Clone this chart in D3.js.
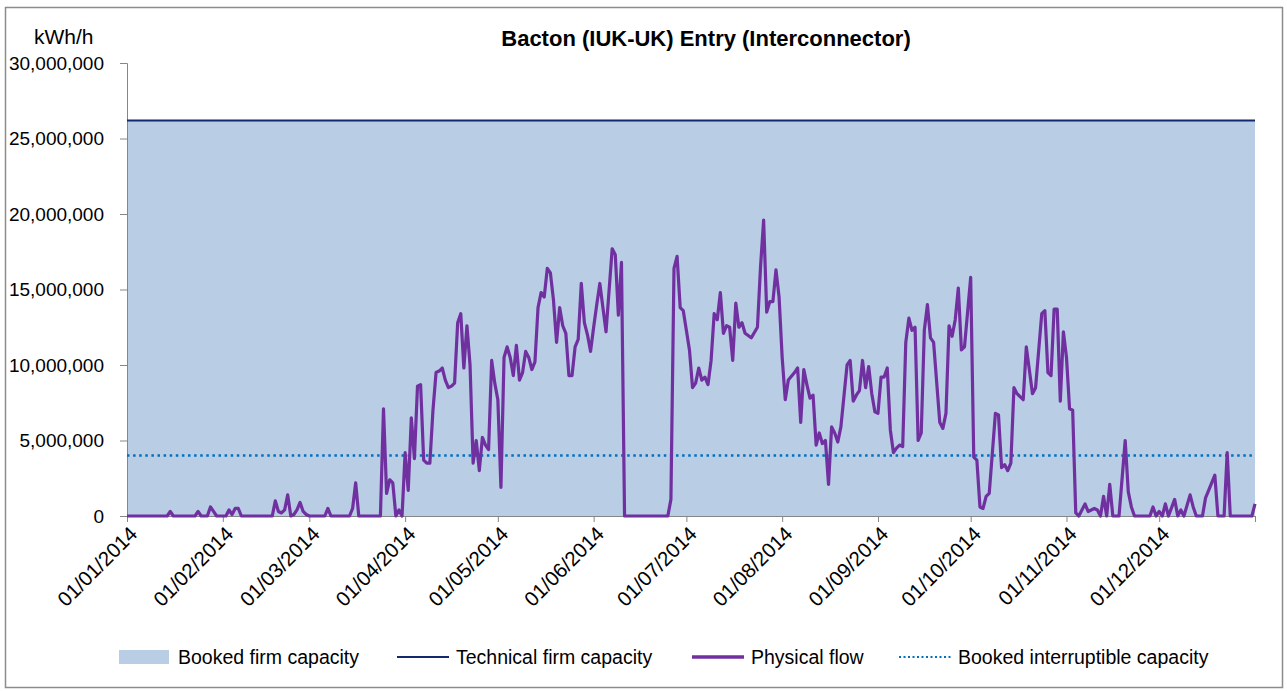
<!DOCTYPE html>
<html>
<head>
<meta charset="utf-8">
<script src="https://cdn.jsdelivr.net/npm/d3@7"></script>
<style>
  body { margin: 0; background: #fff; }
  svg { display: block; font-family: "Liberation Sans", Arial, sans-serif; }
</style>
</head>
<body>
<div id="chart"></div>
<script>
const chartTitle = 'Bacton (IUK-UK) Entry (Interconnector)';
const unitLabel = 'kWh/h';
const yTicks = [0, 5000000, 10000000, 15000000, 20000000, 25000000, 30000000];
const monthTicks = ['2014-01-01', '2014-02-01', '2014-03-01', '2014-04-01', '2014-05-01', '2014-06-01',
  '2014-07-01', '2014-08-01', '2014-09-01', '2014-10-01', '2014-11-01', '2014-12-01'];
const legendLabels = ['Booked firm capacity', 'Technical firm capacity', 'Physical flow', 'Booked interruptible capacity'];

// capacities, kWh/h (flat for the whole year)
const bookedFirm = 26200000;
const technicalFirm = 26200000;
const bookedInterruptible = 4000000;

// physical flow: day of year (0 = 01/01/2014) and value in million kWh/h
const flowDay = [0, 13, 14, 15, 22, 23, 24, 26, 27, 28, 29, 32, 33, 34, 35, 36, 37, 47, 48, 49,
  50, 51, 52, 53, 54, 55, 56, 57, 58, 59, 64, 65, 66, 72, 73, 74, 75, 82, 83, 84,
  85, 86, 87, 88, 89, 90, 91, 92, 93, 94, 95, 96, 97, 98, 99, 100, 101, 102, 103, 104,
  105, 106, 107, 108, 109, 110, 111, 112, 113, 114, 115, 116, 117, 118, 119, 120, 121, 122, 123, 124,
  125, 126, 127, 128, 129, 130, 131, 132, 133, 134, 135, 136, 137, 138, 139, 140, 141, 142, 143, 144,
  145, 146, 147, 148, 149, 150, 151, 152, 153, 154, 155, 157, 158, 159, 160, 161, 175, 176, 177, 178,
  179, 180, 181, 182, 183, 184, 185, 186, 187, 188, 189, 190, 191, 192, 193, 194, 195, 196, 197, 198,
  199, 200, 202, 204, 205, 206, 207, 208, 209, 210, 211, 212, 213, 214, 216, 217, 218, 219, 220, 221,
  222, 223, 224, 225, 226, 227, 228, 229, 230, 231, 233, 234, 235, 236, 237, 238, 239, 240, 241, 242,
  243, 244, 245, 246, 247, 248, 249, 250, 251, 252, 253, 254, 255, 256, 257, 258, 259, 260, 261, 263,
  264, 265, 266, 267, 268, 269, 270, 271, 273, 274, 275, 276, 277, 278, 279, 281, 282, 283, 284, 285,
  286, 287, 288, 290, 291, 293, 294, 296, 297, 298, 299, 300, 301, 302, 303, 304, 305, 306, 307, 308,
  310, 311, 313, 314, 315, 316, 317, 318, 319, 321, 322, 323, 324, 325, 326, 331, 332, 333, 334, 335,
  336, 337, 339, 340, 341, 342, 344, 345, 346, 348, 349, 350, 352, 353, 355, 356, 357, 364, 365];
const flowMkwh = [0, 0, 0.3, 0, 0, 0.3, 0, 0, 0.6, 0.3, 0, 0, 0.4, 0.1, 0.5, 0.5, 0, 0, 1.0, 0.3,
  0.2, 0.4, 1.4, 0, 0.1, 0.4, 0.9, 0.3, 0.1, 0, 0, 0.5, 0, 0, 0.5, 2.2, 0, 0, 7.1, 1.5,
  2.4, 2.2, 0, 0.4, 0, 4.2, 1.7, 6.5, 3.8, 8.6, 8.7, 3.7, 3.5, 3.5, 7.0, 9.5, 9.6, 9.8, 9.0, 8.5,
  8.6, 8.8, 12.8, 13.4, 9.8, 12.6, 10.0, 3.5, 5.0, 3.0, 5.2, 4.7, 4.4, 10.3, 8.8, 7.7, 1.9, 10.5, 11.2, 10.5,
  9.3, 11.3, 9.0, 9.5, 10.9, 10.5, 9.7, 10.2, 13.8, 14.8, 14.5, 16.4, 16.1, 14.3, 11.5, 13.8, 12.6, 12.1, 9.3, 9.3,
  11.2, 11.7, 15.4, 12.8, 12.0, 10.9, 12.5, 14.0, 15.4, 13.8, 12.2, 17.7, 17.3, 13.3, 16.8, 0, 0, 1.1, 16.4, 17.2,
  13.8, 13.6, 12.3, 11.0, 8.5, 8.8, 9.8, 9.0, 9.2, 8.7, 10.3, 13.4, 13.0, 14.8, 12.1, 12.6, 12.5, 10.3, 14.1, 12.5,
  12.8, 12.1, 11.8, 12.5, 16.5, 19.6, 13.5, 14.2, 14.2, 16.3, 14.5, 10.5, 7.7, 9.0, 9.5, 9.8, 6.2, 9.7, 8.7, 7.8,
  8.0, 4.7, 5.5, 4.8, 5.0, 2.1, 5.9, 5.5, 4.9, 5.9, 10.0, 10.3, 7.6, 8.0, 8.3, 10.3, 8.5, 9.9, 8.1, 6.9,
  6.8, 9.2, 9.2, 9.8, 5.7, 4.2, 4.5, 4.7, 4.6, 11.5, 13.1, 12.3, 12.5, 5.0, 5.5, 12.3, 14.0, 11.8, 11.5, 6.2,
  5.8, 6.8, 12.6, 11.9, 13.0, 15.1, 11.0, 11.2, 15.8, 3.9, 3.7, 0.6, 0.5, 1.3, 1.5, 6.8, 6.7, 3.2, 3.4, 3.0,
  3.5, 8.5, 8.1, 7.7, 11.2, 8.1, 8.5, 13.4, 13.6, 9.5, 9.3, 13.7, 13.7, 7.6, 12.2, 10.5, 7.1, 7.0, 0.2, 0,
  0.8, 0.3, 0.5, 0.4, 0, 1.3, 0, 2.1, 0, 0, 2.5, 5.0, 1.6, 0.6, 0, 0, 0.6, 0, 0.3, 0,
  0.8, 0, 1.1, 0, 0.4, 0, 1.4, 0.6, 0, 0, 1.2, 1.7, 2.7, 0, 0, 4.2, 0, 0, 0.8];

const W = 1287, H = 691;
const margin = { left: 127, right: 32, top: 63, bottom: 175 };
const areaColor = '#b9cde5';
const techColor = '#14286e';
const flowColor = '#7030a0';
const interColor = '#0070c0';
const axisColor = '#868686';

const parseDate = d3.timeParse('%Y-%m-%d');
const fmtTick = d3.timeFormat('%d/%m/%Y');
const start = parseDate('2014-01-01');
const end = parseDate('2015-01-01');

const svg = d3.select('#chart').append('svg')
  .attr('width', W)
  .attr('height', H);

svg.append('rect')
  .attr('x', 5.5).attr('y', 7.5)
  .attr('width', 1277).attr('height', 680)
  .attr('fill', '#fff')
  .attr('stroke', '#8c8c8c')
  .attr('stroke-width', 1.5);

const x = d3.scaleTime()
  .domain([start, end])
  .range([margin.left, W - margin.right]);

const y = d3.scaleLinear()
  .domain([0, 30000000])
  .range([H - margin.bottom, margin.top]);

const flowData = flowDay.map((d, i) => ({ date: d3.timeDay.offset(start, d), value: flowMkwh[i] * 1000000 }));
const span = [start, end];

// booked firm capacity (area)
svg.append('path')
  .datum(span)
  .attr('fill', areaColor)
  .attr('d', d3.area().x(d => x(d)).y0(y(0)).y1(y(bookedFirm)));

// axes
const yAxis = svg.append('g')
  .attr('transform', `translate(${margin.left},0)`)
  .call(d3.axisLeft(y).tickValues(yTicks).tickSize(7).tickPadding(16).tickFormat(d3.format(',')));
yAxis.select('.domain').attr('stroke', axisColor);
yAxis.selectAll('.tick line').attr('stroke', axisColor);
yAxis.selectAll('.tick text')
  .attr('fill', '#000')
  .style('font-size', '19px');

const xAxis = svg.append('g')
  .attr('transform', `translate(0,${y(0)})`)
  .call(d3.axisBottom(x).tickValues(monthTicks.map(parseDate).concat([end])).tickSize(6).tickFormat(d => d < end ? fmtTick(d) : ''));
xAxis.select('.domain').attr('stroke', axisColor);
xAxis.selectAll('.tick line').attr('stroke', axisColor);
xAxis.selectAll('.tick text')
  .attr('fill', '#000')
  .style('font-size', '20.5px')
  .attr('text-anchor', 'end')
  .attr('transform', 'translate(1,9) rotate(-45)')
  .attr('dy', '0.7em')
  .attr('y', 0);

// technical firm capacity
svg.append('path')
  .datum(span)
  .attr('fill', 'none')
  .attr('stroke', techColor)
  .attr('stroke-width', 2)
  .attr('d', d3.line().x(d => x(d)).y(() => y(technicalFirm)));

// booked interruptible capacity
svg.append('path')
  .datum(span)
  .attr('fill', 'none')
  .attr('stroke', interColor)
  .attr('stroke-width', 2.5)
  .attr('stroke-dasharray', '2.5,3.6')
  .attr('d', d3.line().x(d => x(d)).y(() => y(bookedInterruptible)));

// physical flow
svg.append('path')
  .datum(flowData)
  .attr('fill', 'none')
  .attr('stroke', flowColor)
  .attr('stroke-width', 3.2)
  .attr('stroke-linejoin', 'round')
  .attr('d', d3.line().x(d => x(d.date)).y(d => y(d.value)));

// title and unit
svg.append('text')
  .attr('x', 706).attr('y', 46)
  .attr('text-anchor', 'middle')
  .style('font-size', '22px')
  .style('font-weight', 'bold')
  .text(chartTitle);

svg.append('text')
  .attr('x', 34).attr('y', 44)
  .style('font-size', '21px')
  .text(unitLabel);

// legend
const legendY = 657;
const legendItems = [
  { label: legendLabels[0], x: 119, kind: 'rect' },
  { label: legendLabels[1], x: 397, kind: 'tech' },
  { label: legendLabels[2], x: 692, kind: 'flow' },
  { label: legendLabels[3], x: 899, kind: 'inter' }
];
const legend = svg.append('g');
legendItems.forEach(item => {
  const g = legend.append('g').attr('transform', `translate(${item.x},${legendY})`);
  if (item.kind === 'rect') {
    g.append('rect').attr('x', 0).attr('y', -7).attr('width', 50).attr('height', 14).attr('fill', areaColor);
  } else {
    const ln = g.append('line').attr('x1', 0).attr('x2', 52).attr('y1', 0).attr('y2', 0);
    if (item.kind === 'tech') ln.attr('stroke', techColor).attr('stroke-width', 2);
    if (item.kind === 'flow') ln.attr('stroke', flowColor).attr('stroke-width', 3.5);
    if (item.kind === 'inter') ln.attr('stroke', interColor).attr('stroke-width', 2).attr('stroke-dasharray', '2,2.5');
  }
  g.append('text')
    .attr('x', 59)
    .attr('dy', '0.35em')
    .style('font-size', '19.5px')
    .text(item.label);
});
</script>
</body>
</html>
